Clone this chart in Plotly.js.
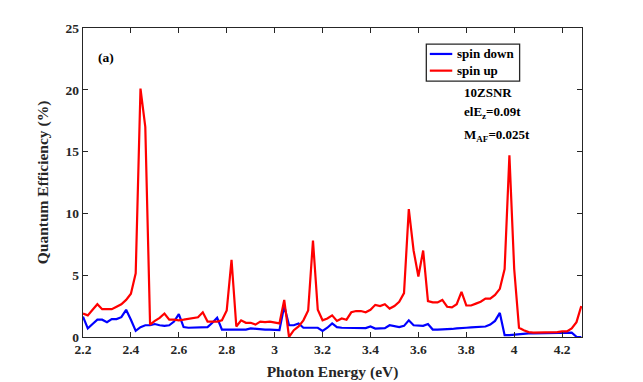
<!DOCTYPE html>
<html>
<head>
<meta charset="utf-8">
<script src="https://cdn.plot.ly/plotly-3.0.1.min.js"></script>
<style>html,body{margin:0;padding:0;background:#fff;}#chart{width:643px;height:382px;}</style>
</head>
<body>
<div id="chart"></div>
<script>
const energy = [2.20,2.22,2.24,2.26,2.28,2.30,2.32,2.34,2.36,2.38,
  2.40,2.42,2.44,2.46,2.48,2.50,2.52,2.54,2.56,2.58,
  2.60,2.62,2.64,2.66,2.68,2.70,2.72,2.74,2.76,2.78,
  2.80,2.82,2.84,2.86,2.88,2.90,2.92,2.94,2.96,2.98,
  3.00,3.02,3.04,3.06,3.08,3.10,3.12,3.14,3.16,3.18,
  3.20,3.22,3.24,3.26,3.28,3.30,3.32,3.34,3.36,3.38,
  3.40,3.42,3.44,3.46,3.48,3.50,3.52,3.54,3.56,3.58,
  3.60,3.62,3.64,3.66,3.68,3.70,3.72,3.74,3.76,3.78,
  3.80,3.82,3.84,3.86,3.88,3.90,3.92,3.94,3.96,3.98,
  4.00,4.02,4.04,4.06,4.08,4.10,4.12,4.14,4.16,4.18,
  4.20,4.22,4.24,4.26,4.28];

const spinDown = [1.65,0.7,1.05,1.4,1.4,1.2,1.45,1.45,1.6,2.2,
  1.4,0.5,0.8,0.95,0.95,1.05,0.95,0.9,0.95,1.25,
  1.85,0.8,0.75,0.75,0.75,0.75,0.8,1.15,1.55,0.6,
  0.6,0.6,0.6,0.6,0.6,0.7,0.65,0.6,0.6,0.6,
  0.55,0.55,2.5,0.95,0.95,1.1,0.75,0.75,0.8,0.75,
  0.5,0.75,1.1,0.8,0.75,0.75,0.72,0.7,0.7,0.72,
  0.85,0.68,0.7,0.72,0.95,0.85,0.8,0.9,1.35,0.95,
  0.9,0.9,1.05,0.6,0.6,0.6,0.62,0.65,0.7,0.75,
  0.75,0.78,0.8,0.8,0.85,1.0,1.3,1.95,0.15,0.15,
  0.2,0.25,0.3,0.3,0.3,0.3,0.3,0.3,0.3,0.3,
  0.3,0.3,0.35,0.02,0.0];

const spinUp = [1.9,1.75,2.2,2.65,2.25,2.25,2.25,2.45,2.65,3.0,
  3.5,5.15,20.1,17.0,1.0,1.3,1.55,1.9,1.4,1.4,
  1.35,1.4,1.45,1.5,1.6,2.0,1.25,1.25,1.25,1.35,
  2.15,6.25,0.85,1.35,1.15,1.15,1.0,1.25,1.2,1.25,
  1.2,1.1,3.0,0.0,0.55,0.85,1.35,2.15,7.8,2.2,
  1.35,1.5,1.75,1.3,1.5,1.4,2.0,2.1,2.1,2.0,
  2.2,2.6,2.5,2.65,2.3,2.5,2.85,3.55,10.35,7.0,
  4.9,7.0,2.9,2.8,2.8,3.0,2.45,2.4,2.65,3.65,
  2.55,2.55,2.7,2.85,3.1,3.1,3.4,3.9,5.5,14.7,
  5.5,0.75,0.55,0.4,0.35,0.35,0.35,0.35,0.35,0.4,
  0.45,0.45,0.7,1.2,2.5];

const seriesNames = ['spin down', 'spin up'];
const seriesColors = ['#0000ff', '#ff0000'];
const xTicks = [2.2,2.4,2.6,2.8,3,3.2,3.4,3.6,3.8,4,4.2];
const xTickText = ['2.2','2.4','2.6','2.8','3','3.2','3.4','3.6','3.8','4','4.2'];
const yTicks = [0,5,10,15,20,25];

const serif = 'Liberation Serif, Times New Roman, serif';
const tickFont = {family: serif, size: 13.5, color: '#262626', weight: 'bold'};
const textFont = {family: serif, size: 13, color: '#000', weight: 'bold'};

const traces = [
  {x: energy, y: spinDown, type: 'scatter', mode: 'lines', name: seriesNames[0],
   line: {color: seriesColors[0], width: 2.2}},
  {x: energy, y: spinUp, type: 'scatter', mode: 'lines', name: seriesNames[1],
   line: {color: seriesColors[1], width: 2.2}}
];

// custom legend (MATLAB style box)
const legX0 = 0.688, legX1 = 0.875, legY0 = 0.828, legY1 = 0.948;
const legRowY = [0.916, 0.862];
const shapes = [
  {type: 'rect', xref: 'paper', yref: 'paper', x0: legX0, x1: legX1, y0: legY0, y1: legY1,
   line: {color: '#262626', width: 1.3}, fillcolor: '#ffffff', layer: 'above'}
];
const annotations = [];
seriesNames.forEach((nm, k) => {
  shapes.push({type: 'line', xref: 'paper', yref: 'paper', x0: 0.695, x1: 0.74,
    y0: legRowY[k], y1: legRowY[k], line: {color: seriesColors[k], width: 2.2}, layer: 'above'});
  annotations.push({xref: 'paper', yref: 'paper', x: 0.745, y: legRowY[k],
    xanchor: 'left', yanchor: 'middle', text: nm, showarrow: false, font: textFont});
});
annotations.push(
  {xref: 'paper', yref: 'paper', x: 0.027, y: 0.905, xanchor: 'left', yanchor: 'middle',
   text: '(a)', showarrow: false, font: {family: serif, size: 13.5, color: '#000', weight: 'bold'}},
  {xref: 'paper', yref: 'paper', x: 0.760, y: 0.792, xanchor: 'left', yanchor: 'middle',
   text: '10ZSNR', showarrow: false, font: textFont},
  {xref: 'paper', yref: 'paper', x: 0.760, y: 0.725, xanchor: 'left', yanchor: 'middle',
   text: 'elE<sub>z</sub>=0.09t', showarrow: false, font: textFont},
  {xref: 'paper', yref: 'paper', x: 0.760, y: 0.652, xanchor: 'left', yanchor: 'middle',
   text: 'M<sub>AF</sub>=0.025t', showarrow: false, font: textFont}
);

const layout = {
  width: 643, height: 382,
  margin: {l: 83, r: 61, t: 28, b: 45},
  paper_bgcolor: '#ffffff', plot_bgcolor: '#ffffff',
  showlegend: false,
  shapes: shapes,
  annotations: annotations,
  xaxis: {range: [2.2, 4.283], tickvals: xTicks, ticktext: xTickText,
    ticks: 'inside', ticklen: 5, tickcolor: '#262626', mirror: 'ticks',
    showline: true, linecolor: '#262626', linewidth: 1.2, showgrid: false, zeroline: false,
    tickfont: tickFont,
    title: {text: 'Photon Energy (eV)', standoff: 9,
      font: {family: serif, size: 15.5, color: '#262626', weight: 'bold'}}},
  yaxis: {range: [0, 25], tickvals: yTicks,
    ticks: 'inside', ticklen: 5, tickcolor: '#262626', mirror: 'ticks',
    showline: true, linecolor: '#262626', linewidth: 1.2, showgrid: false, zeroline: false,
    tickfont: tickFont,
    title: {text: 'Quantum Efficiency (%)', standoff: 13,
      font: {family: serif, size: 15.5, color: '#262626', weight: 'bold'}}}
};

Plotly.newPlot('chart', traces, layout, {displayModeBar: false, staticPlot: true});
</script>
</body>
</html>
